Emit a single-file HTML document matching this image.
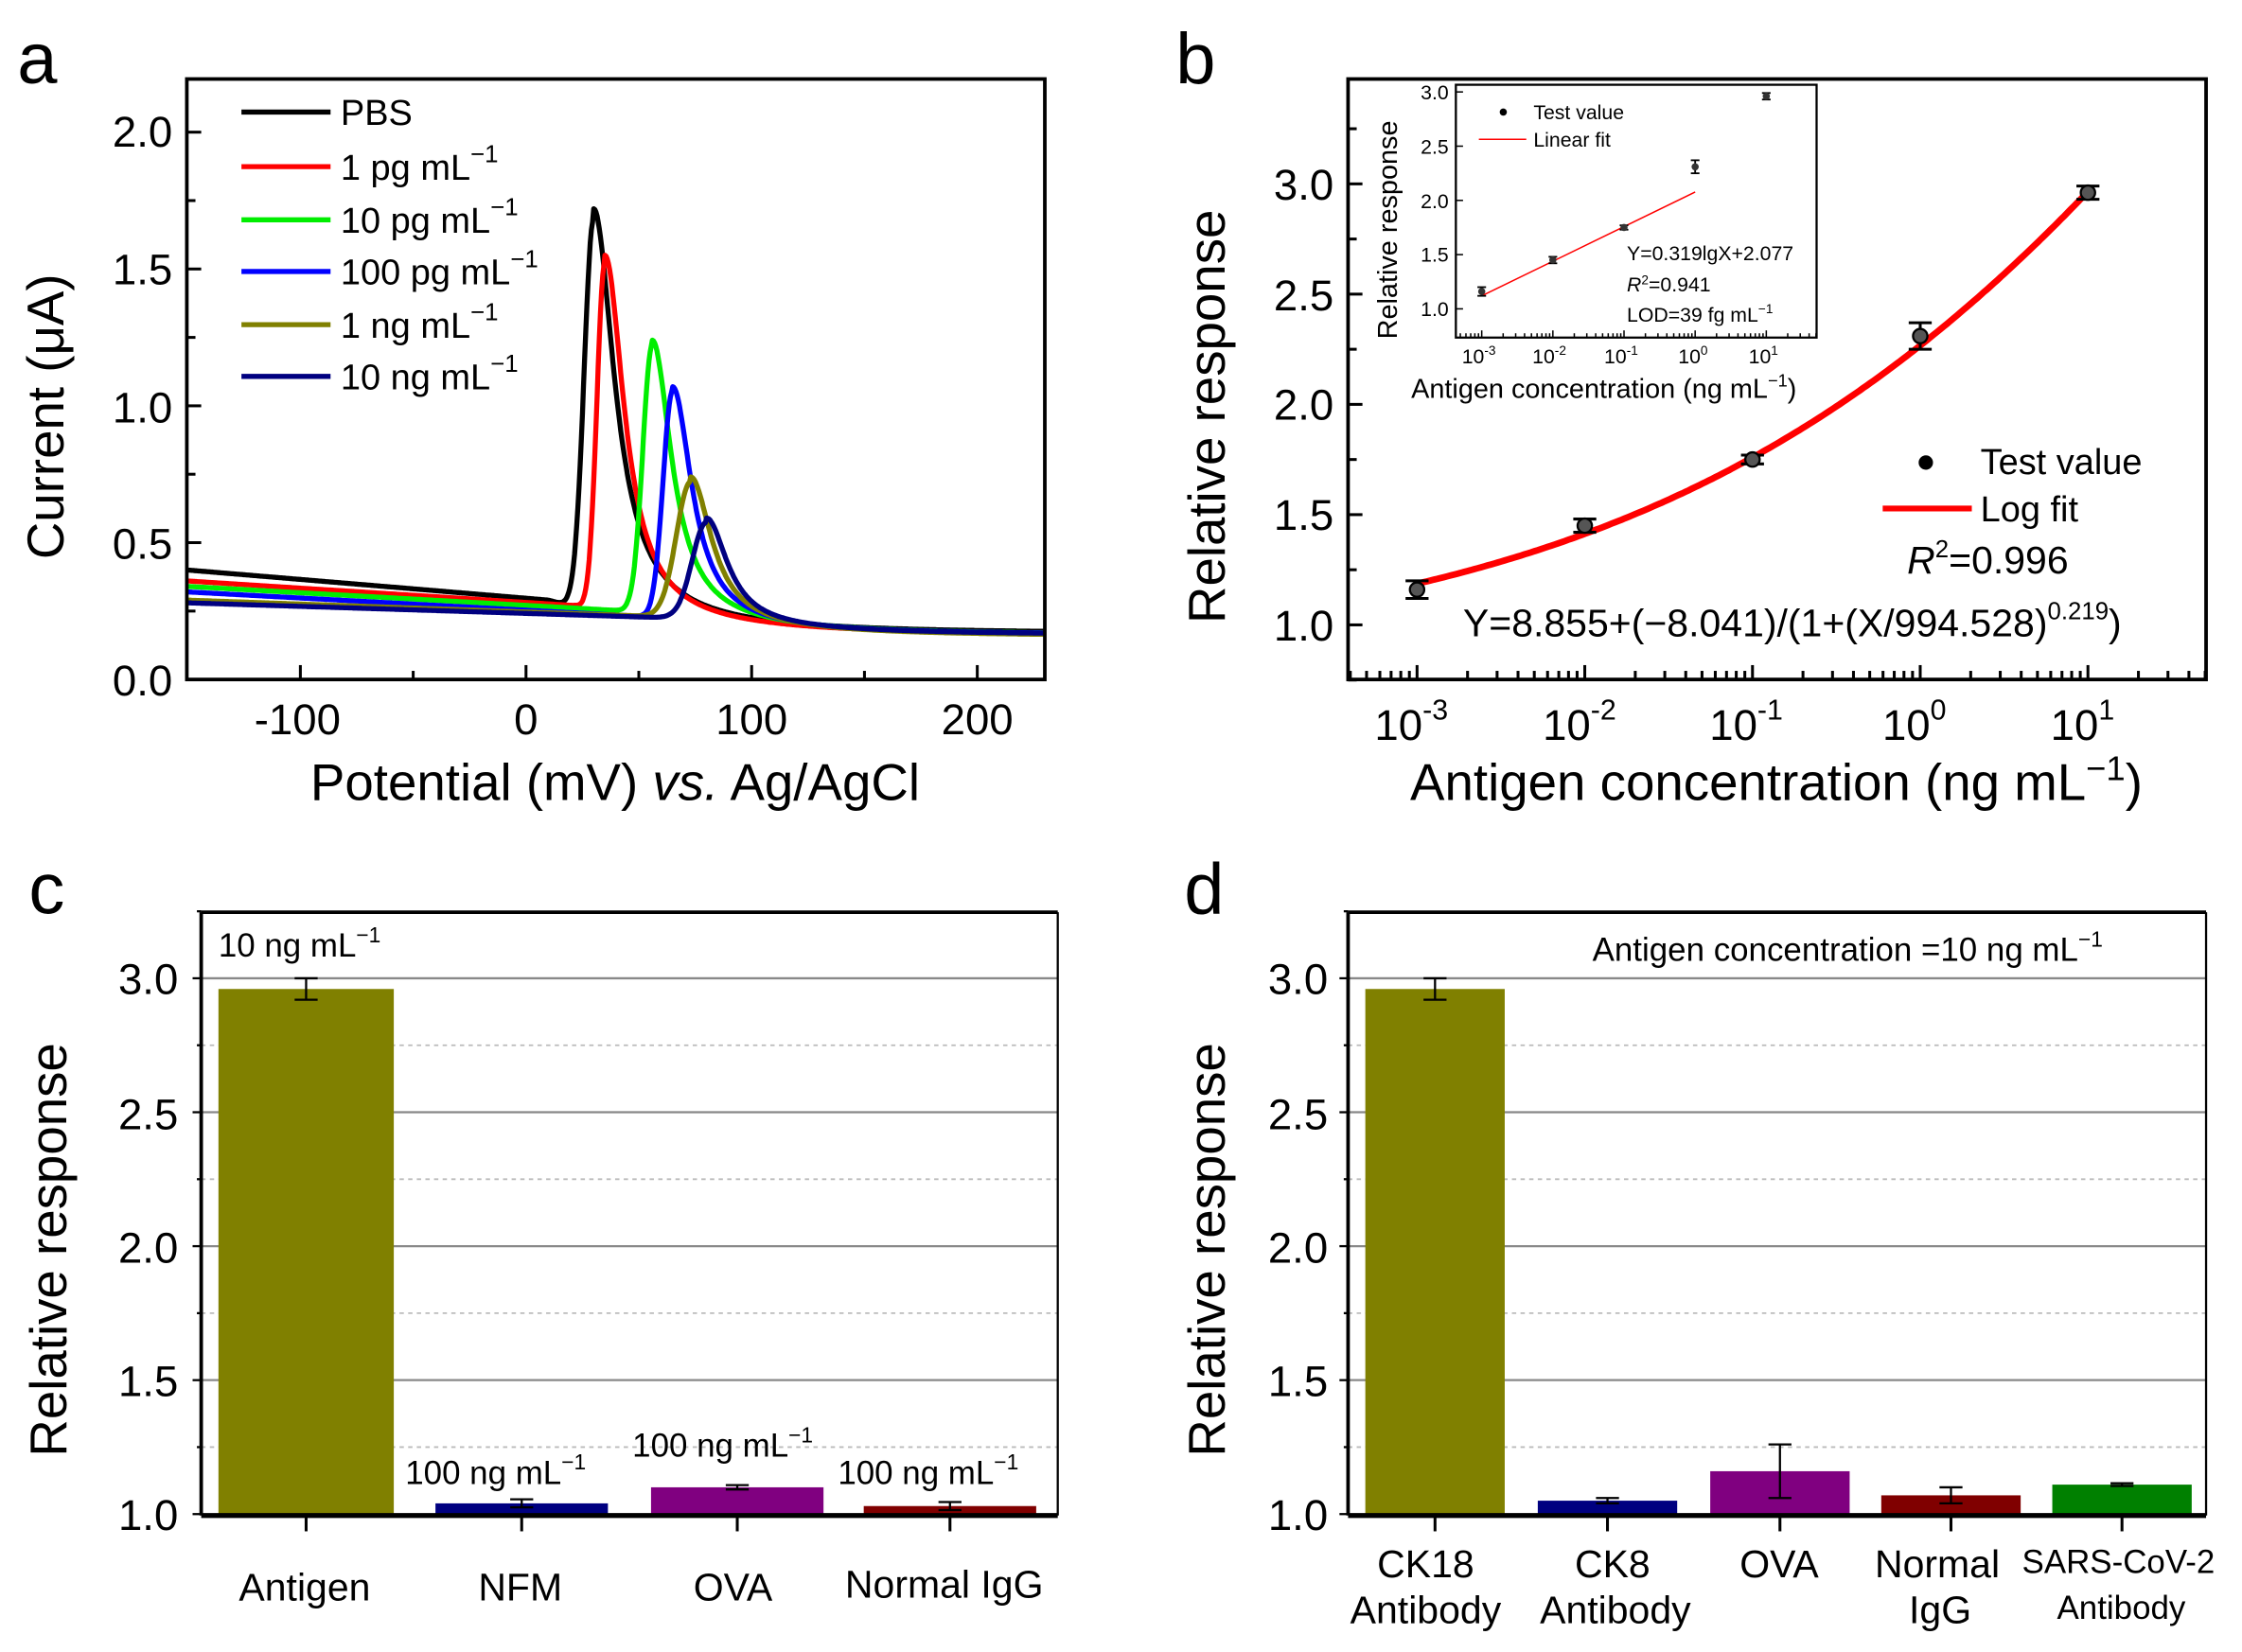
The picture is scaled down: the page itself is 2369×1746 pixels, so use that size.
<!DOCTYPE html>
<html><head><meta charset="utf-8"><style>
html,body{margin:0;padding:0;background:#fff}
svg{display:block}
text{font-family:"Liberation Sans",sans-serif;fill:#000}
</style></head><body>
<svg id="s" width="2369" height="1746" viewBox="0 0 1560 1150" preserveAspectRatio="none" xmlns="http://www.w3.org/2000/svg">
<rect width="1560" height="1150" fill="#fff"/>
<text x="12" y="58" font-size="50">a</text>
<text x="818" y="58" font-size="50">b</text>
<text x="20" y="636" font-size="50">c</text>
<text x="824" y="636" font-size="50">d</text>

<g id="pa"></g>
<rect x="130" y="55" width="597" height="418" fill="none" stroke="#000" stroke-width="2.5"/>
<g font-size="30" text-anchor="end">
<text x="120" y="484">0.0</text><text x="120" y="389">0.5</text><text x="120" y="294">1.0</text><text x="120" y="198">1.5</text><text x="120" y="102">2.0</text>
</g>
<g font-size="30" text-anchor="middle">
<text x="207" y="511">-100</text><text x="366" y="511">0</text><text x="523" y="511">100</text><text x="680" y="511">200</text>
</g>
<text x="428" y="557" font-size="36" text-anchor="middle">Potential (mV) <tspan font-style="italic">vs.</tspan> Ag/AgCl</text>
<text transform="translate(44,290) rotate(-90)" font-size="36" text-anchor="middle">Current (μA)</text>
<g stroke-width="3.5">
<line x1="168" y1="78" x2="230" y2="78" stroke="#000"/>
<line x1="168" y1="116" x2="230" y2="116" stroke="#ff0000"/>
<line x1="168" y1="153" x2="230" y2="153" stroke="#00ee00"/>
<line x1="168" y1="189" x2="230" y2="189" stroke="#0000ff"/>
<line x1="168" y1="226" x2="230" y2="226" stroke="#808000"/>
<line x1="168" y1="262" x2="230" y2="262" stroke="#000080"/>
</g>
<g font-size="25">
<text x="237" y="87">PBS</text>
<text x="237" y="125">1 pg mL<tspan dy="-12" font-size="17">−1</tspan></text>
<text x="237" y="162">10 pg mL<tspan dy="-12" font-size="17">−1</tspan></text>
<text x="237" y="198">100 pg mL<tspan dy="-12" font-size="17">−1</tspan></text>
<text x="237" y="235">1 ng mL<tspan dy="-12" font-size="17">−1</tspan></text>
<text x="237" y="271">10 ng mL<tspan dy="-12" font-size="17">−1</tspan></text>
</g>

<g id="pb"></g>
<rect x="938" y="55" width="597" height="418" fill="none" stroke="#000" stroke-width="2.5"/>
<g font-size="30" text-anchor="end">
<text x="928" y="446">1.0</text><text x="928" y="369">1.5</text><text x="928" y="292">2.0</text><text x="928" y="216">2.5</text><text x="928" y="139">3.0</text>
</g>
<g font-size="30" text-anchor="middle">
<text x="982" y="515">10<tspan dy="-14" font-size="20">-3</tspan></text>
<text x="1099" y="515">10<tspan dy="-14" font-size="20">-2</tspan></text>
<text x="1215" y="515">10<tspan dy="-14" font-size="20">-1</tspan></text>
<text x="1332" y="515">10<tspan dy="-14" font-size="20">0</tspan></text>
<text x="1449" y="515">10<tspan dy="-14" font-size="20">1</tspan></text>
</g>
<text x="1236" y="557" font-size="36" text-anchor="middle">Antigen concentration (ng mL<tspan dy="-14" font-size="24">−1</tspan><tspan dy="14">)</tspan></text>
<text transform="translate(852,290) rotate(-90)" font-size="36" text-anchor="middle">Relative response</text>
<circle cx="1340" cy="322" r="5" fill="#000"/>
<text x="1378" y="330" font-size="25">Test value</text>
<line x1="1310" y1="354" x2="1372" y2="354" stroke="#ff0000" stroke-width="4"/>
<text x="1378" y="363" font-size="25">Log fit</text>
<text x="1327" y="399" font-size="27"><tspan font-style="italic">R</tspan><tspan dy="-11" font-size="17">2</tspan><tspan dy="11">=0.996</tspan></text>
<text x="1018" y="443" font-size="27">Y=8.855+(−8.041)/(1+(X/994.528)<tspan dy="-12" font-size="17">0.219</tspan><tspan dy="12">)</tspan></text>
<rect x="1013" y="59" width="251" height="176" fill="#fff" stroke="#000" stroke-width="1.5"/>
<g id="pi"></g>
<g font-size="14" text-anchor="end">
<text x="1008" y="220">1.0</text><text x="1008" y="182">1.5</text><text x="1008" y="145">2.0</text><text x="1008" y="107">2.5</text><text x="1008" y="69">3.0</text>
</g>
<g font-size="14" text-anchor="middle">
<text x="1029" y="253">10<tspan dy="-6" font-size="9">-3</tspan></text>
<text x="1078" y="253">10<tspan dy="-6" font-size="9">-2</tspan></text>
<text x="1128" y="253">10<tspan dy="-6" font-size="9">-1</tspan></text>
<text x="1178" y="253">10<tspan dy="-6" font-size="9">0</tspan></text>
<text x="1227" y="253">10<tspan dy="-6" font-size="9">1</tspan></text>
</g>
<text x="1116" y="277" font-size="19" text-anchor="middle">Antigen concentration (ng mL<tspan dy="-8" font-size="12">−1</tspan><tspan dy="8">)</tspan></text>
<text transform="translate(972,160) rotate(-90)" font-size="19" text-anchor="middle">Relative response</text>
<circle cx="1046" cy="78" r="2.5" fill="#000"/>
<text x="1067" y="83" font-size="14">Test value</text>
<line x1="1029" y1="97" x2="1062" y2="97" stroke="#ff0000" stroke-width="1"/>
<text x="1067" y="102" font-size="14">Linear fit</text>
<text x="1132" y="181" font-size="14">Y=0.319lgX+2.077</text>
<text x="1132" y="203" font-size="14"><tspan font-style="italic">R</tspan><tspan dy="-5" font-size="9">2</tspan><tspan dy="5">=0.941</tspan></text>
<text x="1132" y="224" font-size="14">LOD=39 fg mL<tspan dy="-6" font-size="9">−1</tspan></text>

<g id="pc"></g>
<g id="pd"></g>
<g font-size="30" text-anchor="end">
<text x="124" y="1065">1.0</text><text x="124" y="972">1.5</text><text x="124" y="879">2.0</text><text x="124" y="786">2.5</text><text x="124" y="692">3.0</text>
<text x="924" y="1065">1.0</text><text x="924" y="972">1.5</text><text x="924" y="879">2.0</text><text x="924" y="786">2.5</text><text x="924" y="692">3.0</text>
</g>
<text transform="translate(46,870) rotate(-90)" font-size="36" text-anchor="middle">Relative response</text>
<text transform="translate(852,870) rotate(-90)" font-size="36" text-anchor="middle">Relative response</text>
<g font-size="27" text-anchor="middle">
<text x="212" y="1114">Antigen</text><text x="362" y="1114">NFM</text><text x="510" y="1114">OVA</text><text x="657" y="1112">Normal IgG</text>
<text x="992" y="1098">CK18</text><text x="992" y="1130">Antibody</text>
<text x="1122" y="1098">CK8</text><text x="1124" y="1130">Antibody</text>
<text x="1238" y="1098">OVA</text>
<text x="1348" y="1098">Normal</text><text x="1350" y="1130">IgG</text>
</g>
<g font-size="23" text-anchor="middle"><text x="1474" y="1095">SARS-CoV-2</text><text x="1476" y="1127">Antibody</text></g>
<g font-size="23">
<text x="152" y="666">10 ng mL<tspan dy="-10" font-size="15">−1</tspan></text>
<text x="282" y="1033">100 ng mL<tspan dy="-10" font-size="15">−1</tspan></text>
<text x="440" y="1014">100 ng mL<tspan dy="-10" font-size="15">−1</tspan></text>
<text x="583" y="1033">100 ng mL<tspan dy="-10" font-size="15">−1</tspan></text>
<text x="1108" y="669">Antigen concentration =10 ng mL<tspan dy="-10" font-size="15">−1</tspan></text>
</g>
</svg>
<script>
var NS="http://www.w3.org/2000/svg";
function el(p,t,a){var e=document.createElementNS(NS,t);for(var k in a)e.setAttribute(k,a[k]);document.getElementById(p).appendChild(e);return e;}
function ax(v){return 366+v*1.57;} function ay(v){return 473-v*190.5;}
var series=[
 ["#000",0.40,0.29,10,30,1.72,6,12,0.17],
 ["#ff0000",0.36,0.27,22,35,1.55,5,11,0.165],
 ["#00ee00",0.34,0.25,45,56,1.24,6,11,0.165],
 ["#0000ff",0.32,0.23,52,65,1.07,6,11,0.165],
 ["#808000",0.29,0.23,58,73,0.74,9,12,0.16],
 ["#000080",0.28,0.225,64,80,0.59,9,12,0.165]];
series.forEach(function(s){
 var c=s[0],y0=s[1],yb=s[2],xs=s[3],xp=s[4],pk=s[5],wl=s[6],wr=s[7],yend=s[8];
 var d="";
 for(var v=-150;v<=230;v+=0.5){
  var base;
  if(v<xs){base=y0+(yb-y0)*(v+150)/(xs+150);}
  else{base=yb+(yend-yb)*(1-Math.exp(-(v-xs)/50));}
  var y;
  if(v<xp){var u=(v-xp)/wl;y=base+(pk-yb)*Math.exp(-u*u);}
  else{var u=(v-xp)/wr;y=base+(pk-base)/(1+u*u*1.2);}
  d+=(d?"L":"M")+ax(v).toFixed(1)+","+ay(y).toFixed(1);
 }
 el("pa","path",{d:d,fill:"none",stroke:c,"stroke-width":3.5,"stroke-linejoin":"round"});
});
[-100,0,100,200].forEach(function(v){el("pa","line",{x1:ax(v),x2:ax(v),y1:473,y2:463,stroke:"#000","stroke-width":2});});
[-50,50,150].forEach(function(v){el("pa","line",{x1:ax(v),x2:ax(v),y1:473,y2:467,stroke:"#000","stroke-width":2});});
for(var t=0;t<=2;t+=0.25){el("pa","line",{x1:130,x2:t%0.5==0?140:136,y1:ay(t),y2:ay(t),stroke:"#000","stroke-width":2});}
function bx(v){return 986+(Math.log10(v)+3)*116.7;} function by(v){return 435-(v-1)*153.5;}
var d="";for(var e=-3;e<=1.001;e+=0.02){var X=Math.pow(10,e);var Y=8.855-8.041/(1+Math.pow(X/994.528,0.219));d+=(d?"L":"M")+bx(X).toFixed(1)+","+by(Y).toFixed(1);}
el("pb","path",{d:d,fill:"none",stroke:"#ff0000","stroke-width":4.5});
var pts=[[0.001,1.16,0.04],[0.01,1.45,0.03],[0.1,1.75,0.02],[1,2.31,0.06],[10,2.96,0.03]];
pts.forEach(function(p){var x=bx(p[0]);
 el("pb","line",{x1:x,x2:x,y1:by(p[1]-p[2]),y2:by(p[1]+p[2]),stroke:"#000","stroke-width":2});
 el("pb","line",{x1:x-8,x2:x+8,y1:by(p[1]-p[2]),y2:by(p[1]-p[2]),stroke:"#000","stroke-width":2});
 el("pb","line",{x1:x-8,x2:x+8,y1:by(p[1]+p[2]),y2:by(p[1]+p[2]),stroke:"#000","stroke-width":2});
 el("pb","circle",{cx:x,cy:by(p[1]),r:5,fill:"#555",stroke:"#000","stroke-width":1.5});});
for(var e2=-4;e2<=1;e2++){for(var m=1;m<10;m++){var X2=m*Math.pow(10,e2);var xx=bx(X2);if(xx<938||xx>1535)continue;
 el("pb","line",{x1:xx,x2:xx,y1:473,y2:m==1?463:467,stroke:"#000","stroke-width":2});}}
for(var t=0.75;t<=3.5;t+=0.25){var yy=by(t);if(yy<55)continue;el("pb","line",{x1:938,x2:t%0.5==0?948:944,y1:yy,y2:yy,stroke:"#000","stroke-width":2});}
function ix(v){return 1031+(Math.log10(v)+3)*49.5;} function iy(v){return 215-(v-1)*75.5;}
el("pi","line",{x1:ix(0.001),y1:iy(0.319*-3+2.077),x2:ix(1),y2:iy(2.077),stroke:"#ff0000","stroke-width":1});
pts.forEach(function(p){var x=ix(p[0]);
 el("pi","line",{x1:x,x2:x,y1:iy(p[1]-p[2]),y2:iy(p[1]+p[2]),stroke:"#000","stroke-width":1.2});
 el("pi","line",{x1:x-3,x2:x+3,y1:iy(p[1]-p[2]),y2:iy(p[1]-p[2]),stroke:"#000","stroke-width":1.2});
 el("pi","line",{x1:x-3,x2:x+3,y1:iy(p[1]+p[2]),y2:iy(p[1]+p[2]),stroke:"#000","stroke-width":1.2});
 el("pi","circle",{cx:x,cy:iy(p[1]),r:2.5,fill:"#333"});});
for(var e3=-4;e3<=1;e3++){for(var m=1;m<10;m++){var xx=ix(m*Math.pow(10,e3));if(xx<1013||xx>1264)continue;
 el("pi","line",{x1:xx,x2:xx,y1:235,y2:m==1?230:232,stroke:"#000","stroke-width":1});}}
for(var t=1;t<=3;t+=0.5){el("pi","line",{x1:1013,x2:1018,y1:iy(t),y2:iy(t),stroke:"#000","stroke-width":1});}
function cy(v){return 1054-(v-1)*186.5;}
function bars(id,x0,x1,data){
 for(var t=1.25;t<=3.0;t+=0.25){var y=cy(t);var solid=(Math.abs(t*2-Math.round(t*2))<0.01);
  el(id,"line",{x1:x0,x2:x1,y1:y,y2:y,stroke:solid?"#888":"#bbb","stroke-width":solid?1.5:1.2,"stroke-dasharray":solid?"":"3,3"});}
 data.forEach(function(b){
  el(id,"rect",{x:b[0],y:cy(b[3]),width:b[1]-b[0],height:1054-cy(b[3]),fill:b[2]});
  var cx=(b[0]+b[1])/2;
  el(id,"line",{x1:cx,x2:cx,y1:cy(b[3]-b[4]),y2:cy(b[3]+b[4]),stroke:"#000","stroke-width":1.5});
  [b[3]-b[4],b[3]+b[4]].forEach(function(v){el(id,"line",{x1:cx-8,x2:cx+8,y1:cy(v),y2:cy(v),stroke:"#000","stroke-width":1.5});});
  el(id,"line",{x1:cx,x2:cx,y1:1056,y2:1066,stroke:"#000","stroke-width":2});
 });
 el(id,"line",{x1:x0,x2:x1,y1:635,y2:635,stroke:"#000","stroke-width":2.5});
 el(id,"line",{x1:x1,x2:x1,y1:635,y2:1055,stroke:"#000","stroke-width":1.5});
 el(id,"line",{x1:x0,x2:x0,y1:635,y2:1055,stroke:"#000","stroke-width":2.5});
 el(id,"line",{x1:x0,x2:x1,y1:1055,y2:1055,stroke:"#000","stroke-width":3.5});
 for(var t=1;t<=3.25;t+=0.25){var solid=(Math.abs(t*2-Math.round(t*2))<0.01);el(id,"line",{x1:x0-(solid?6:3),x2:x0,y1:cy(t),y2:cy(t),stroke:"#000","stroke-width":1.5});}
}
bars("pc",140,736,[[152,274,"#808000",2.96,0.04],[303,423,"#000080",1.04,0.015],[453,573,"#800080",1.1,0.008],[601,721,"#800000",1.03,0.015]]);
bars("pd",938,1535,[[950,1047,"#808000",2.96,0.04],[1070,1167,"#000080",1.05,0.01],[1190,1287,"#800080",1.16,0.1],[1309,1406,"#800000",1.07,0.03],[1428,1525,"#008000",1.11,0.005]]);
</script>
</body></html>
